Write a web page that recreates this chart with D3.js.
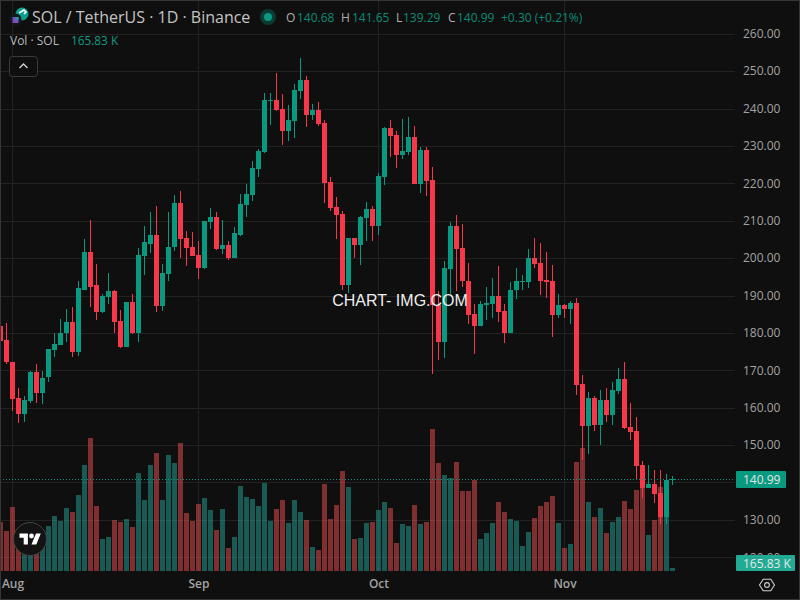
<!DOCTYPE html>
<html><head><meta charset="utf-8">
<script src="https://cdn.jsdelivr.net/npm/d3@7/dist/d3.min.js"></script>
<style>html,body{margin:0;padding:0;background:#0f0f0f;overflow:hidden}svg{display:block;font-family:"Open Sans",sans-serif}</style>
</head><body><svg id="c" width="800" height="600"></svg>
<script>
const opens=[181.8,178.0,172.2,162.6,158.3,161.8,169.6,164.0,168.1,175.3,176.7,179.9,182.8,174.8,191.6,201.5,192.7,185.5,189.5,191.1,183.1,176.1,188.2,180.1,200.5,203.9,206.1,187.1,195.7,202.9,214.6,205.3,202.9,200.7,197.3,209.6,210.9,202.3,203.4,199.9,206.3,214.1,216.9,223.8,228.4,242.1,242.3,239.9,234.0,236.7,244.7,247.6,238.3,239.6,236.1,220.4,213.6,211.7,192.7,205.3,203.4,210.6,213.0,208.5,221.7,234.8,232.9,227.6,228.4,232.4,219.8,228.9,220.9,187.4,177.5,197.0,208.7,202.6,194.0,185.0,181.8,187.4,187.6,189.8,185.8,180.1,191.4,193.8,193.6,200.0,198.7,194.2,193.9,184.7,187.4,186.3,187.9,166.3,155.0,162.6,155.3,162.0,158.0,164.4,167.6,154.8,153.7,144.7,138.6,139.7,137.3,130.8,140.68];
const highs=[182.2,182.7,172.3,165.3,163.2,169.8,171.7,169.8,175.6,179.9,183.6,186.3,186.8,194.0,205.0,210.1,198.3,190.3,195.9,191.4,186.0,188.2,190.3,202.6,208.7,212.2,213.8,198.3,212.2,216.9,217.9,207.2,206.9,204.7,209.8,213.3,212.2,210.1,204.7,208.2,217.1,219.8,225.9,229.3,244.1,244.1,249.4,243.9,240.9,246.5,253.5,248.7,241.2,241.7,236.9,221.7,216.3,212.5,205.5,205.5,211.2,214.9,213.8,222.8,235.1,236.9,234.0,237.2,237.7,235.3,229.7,229.7,224.4,191.1,199.1,209.6,211.4,209.0,198.6,187.6,188.4,192.4,194.6,197.8,187.6,193.5,197.3,195.4,202.4,205.4,204.0,201.6,198.2,190.4,187.7,188.5,189.3,168.7,164.2,163.1,164.7,165.2,166.8,170.6,172.2,161.2,157.5,145.8,144.7,143.4,143.4,142.3,141.65];
const lows=[177.5,171.7,159.1,155.9,156.2,161.3,161.3,161.0,166.8,173.5,176.7,177.7,173.5,173.7,191.6,186.8,183.4,185.2,187.6,180.1,175.9,176.1,179.6,177.5,195.4,201.3,185.5,185.8,194.0,201.8,199.9,197.8,200.5,194.3,197.0,207.7,202.1,201.0,199.4,199.9,205.8,210.9,215.2,221.8,228.2,235.6,239.3,230.2,231.3,232.1,242.5,235.1,236.9,235.3,214.6,212.5,205.0,191.4,190.8,199.9,198.1,204.7,204.5,206.3,219.6,227.0,224.1,226.5,227.6,219.8,217.4,216.6,168.9,172.7,173.2,190.3,191.1,192.2,182.3,174.3,181.8,183.4,183.9,182.8,177.2,179.9,189.0,191.4,192.0,197.4,190.1,189.3,178.9,183.9,183.9,182.3,163.4,146.0,147.6,153.7,150.0,156.1,155.3,163.6,154.3,151.3,141.0,135.9,138.6,134.6,129.0,129.0,139.29];
const closes=[177.8,172.2,162.3,158.3,162.1,169.6,164.0,168.0,175.6,176.9,180.1,182.8,174.8,191.9,201.5,192.4,185.5,189.8,191.1,182.8,176.1,188.2,180.1,200.7,204.2,206.1,187.1,195.9,203.1,214.6,205.0,202.6,200.5,197.3,209.8,210.9,202.3,203.4,199.9,206.6,214.4,217.1,224.1,228.6,242.3,242.3,239.6,234.0,236.9,244.9,247.6,238.3,239.6,235.9,220.1,213.3,211.4,192.7,205.3,203.4,210.9,213.0,208.5,222.0,234.8,232.6,227.6,228.6,232.4,219.8,228.9,220.6,187.4,177.5,197.3,208.7,202.3,193.8,184.7,181.8,187.6,187.9,189.8,185.5,179.9,191.4,193.8,194.0,200.0,198.4,193.9,193.6,184.7,187.4,186.3,187.9,166.0,155.0,162.6,155.3,162.0,158.0,164.7,167.6,154.5,153.5,144.5,138.6,139.7,137.0,130.8,140.7,140.99];
const volumes=[2695,2200,3520,2255,1650,1470,1560,1980,2475,3025,2750,3465,3245,4180,5830,7315,3575,1760,1870,2805,2695,2860,2420,5390,3905,5830,6490,3905,6380,5940,7040,3190,2750,3685,4015,3355,2255,3410,1265,1870,4675,4070,3960,3575,4840,2750,3410,3905,2640,3905,3245,2805,1320,1155,4785,2860,3630,5500,4620,1760,1815,2640,2695,3355,3795,3465,1540,2585,2475,3630,2585,2695,7810,5940,5280,5115,5995,4400,4400,5005,1760,2090,2640,3795,3245,2860,2750,1375,2145,2915,3575,3795,4125,2640,1265,1485,5995,6765,3795,2970,3465,2090,2695,2970,3850,3410,4455,4545,1980,2805,4620,3905,165.83];
const gridTicks=[260,250,240,230,220,210,200,190,180,170,160,150,140,130,120];
const labelTicks=[260,250,240,230,220,210,200,190,180,170,160,150,130,120];
const monthLabels=["Aug","Sep","Oct","Nov"];
const monthIndex=[2,33,63,94];
const lastClose=140.99;
const headerOHLC=[["O","140.68",286,297],["H","141.65",341,352],["L","139.29",396,403],["C","140.99",448,457]];

const UP="#089981",DOWN="#f7374a",GRID="#222222",BG="#0f0f0f",TEAL_TXT="#0d8a76";
const svg=d3.select("#c");
const x=d3.scaleLinear().domain([0,112]).range([0.5,672.5]);
const y=d3.scaleLinear().domain([260,120]).range([33.7,557.3]);
const yV=d3.scaleLinear().domain([0,8000]).range([571,425.55]);
const crisp=v=>Math.round(v);
svg.append("rect").attr("width",800).attr("height",600).attr("fill",BG);

// grid
const g=svg.append("g").attr("shape-rendering","crispEdges");
g.selectAll(".h").data(gridTicks).join("line").attr("x1",0).attr("x2",735)
 .attr("y1",d=>crisp(y(d))+.5).attr("y2",d=>crisp(y(d))+.5).attr("stroke",GRID);
g.selectAll(".v").data(monthIndex).join("line").attr("y1",0).attr("y2",571)
 .attr("x1",d=>Math.floor(x(d))+.5).attr("x2",d=>Math.floor(x(d))+.5).attr("stroke",GRID);

const idx=d3.range(opens.length);
const up=i=>closes[i]>=opens[i];
// volume
svg.append("g").attr("shape-rendering","crispEdges").selectAll("rect").data(idx).join("rect")
 .attr("x",i=>x(i)-2.5).attr("width",5)
 .attr("y",i=>crisp(yV(volumes[i]))).attr("height",i=>571-crisp(yV(volumes[i])))
 .attr("fill",i=>up(i)?"#26a69a":"#f0504f").attr("fill-opacity",.5);
// candles
const cg=svg.append("g").attr("shape-rendering","crispEdges");
cg.selectAll(".w").data(idx).join("rect").attr("x",i=>x(i)-.5).attr("width",1)
 .attr("y",i=>crisp(y(highs[i]))).attr("height",i=>Math.max(1,crisp(y(lows[i]))-crisp(y(highs[i]))))
 .attr("fill",i=>up(i)?UP:DOWN);
cg.selectAll(".b").data(idx).join("rect").attr("x",i=>x(i)-2.5).attr("width",5)
 .attr("y",i=>crisp(y(Math.max(opens[i],closes[i]))))
 .attr("height",i=>Math.max(1,crisp(y(Math.min(opens[i],closes[i])))-crisp(y(Math.max(opens[i],closes[i])))))
 .attr("fill",i=>up(i)?UP:DOWN);

// last price line
svg.append("line").attr("x1",0).attr("x2",735).attr("y1",crisp(y(lastClose))).attr("y2",crisp(y(lastClose)))
 .attr("stroke",UP).attr("stroke-dasharray","1 2").attr("shape-rendering","crispEdges");

// price axis
const ax=svg.append("g").attr("transform","translate(743,0)")
 .call(d3.axisRight(y).tickValues(labelTicks).tickSize(0).tickPadding(0).tickFormat(d3.format(".2f")));
ax.select(".domain").remove();
ax.selectAll("text").attr("font-family",'"Open Sans"').attr("font-size",12).attr("fill","#a3a3a3");

// time axis
const tx=d3.scaleOrdinal().domain(monthIndex).range(monthIndex.map(i=>x(i)));
const at=svg.append("g").attr("transform","translate(0,579)")
 .call(d3.axisBottom(tx).tickSize(0).tickPadding(0).tickFormat((d,i)=>monthLabels[i]));
at.select(".domain").remove();
at.selectAll("text").attr("font-family",'"Open Sans"').attr("font-size",12).attr("font-weight",600).attr("fill","#a3a3a3");

// watermark
svg.append("text").attr("x",400).attr("y",306).attr("text-anchor","middle")
 .attr("font-family",'"Liberation Sans"').attr("font-size",16).attr("fill","#eeeeee").text("CHART- IMG.COM");

// header
const T=(s,xx,yy,sz,col)=>svg.append("text").attr("x",xx).attr("y",yy).attr("font-size",sz).attr("fill",col).text(s);
T("SOL / TetherUS · 1D · Binance",32,23,16,"#c4c4c4");
svg.append("circle").attr("cx",268).attr("cy",17).attr("r",8).attr("fill","#0b3a33");
svg.append("circle").attr("cx",268).attr("cy",17).attr("r",4).attr("fill",UP);
headerOHLC.forEach(d=>{T(d[0],d[2],22,12,"#b0b0b0");T(d[1],d[3],22,12,TEAL_TXT);});
T("+0.30 (+0.21%)",501,22,12,TEAL_TXT);
T("Vol · SOL",10,45,12,"#b8b8b8");
T("165.83 K",71,45,11.8,"#159a86");

// symbol icon
svg.append("circle").attr("cx",22).attr("cy",14).attr("r",6.5).attr("fill","#0aa08c");
svg.append("path").attr("d","M19 13l5-3 2 2-2 2").attr("fill","none").attr("stroke","#fff").attr("stroke-width",1.6);
svg.append("circle").attr("cx",15.5).attr("cy",19.5).attr("r",6).attr("fill","#121a1c");
svg.append("rect").attr("x",12.5).attr("y",17).attr("width",6).attr("height",6).attr("fill","#7b4bc4");
svg.append("rect").attr("x",15.5).attr("y",17).attr("width",3).attr("height",3).attr("fill","#2a9a96");

// collapse button
svg.append("rect").attr("x",9.5).attr("y",56.5).attr("width",28).attr("height",20).attr("rx",3)
 .attr("fill",BG).attr("stroke","#3a3a3a");
svg.append("path").attr("d","M19.5 68l4-4 4 4").attr("fill","none").attr("stroke","#d0d0d0").attr("stroke-width",1.4);

// price tags
svg.append("rect").attr("x",736).attr("y",471).attr("width",50).attr("height",17).attr("rx",1).attr("fill",UP);
svg.append("text").attr("x",743).attr("y",484).attr("font-size",12).attr("fill","#e4e4e4").text("140.99");
svg.append("rect").attr("x",736).attr("y",555).attr("width",59).attr("height",16).attr("rx",1).attr("fill","#22ab94");
svg.append("text").attr("x",743).attr("y",568).attr("font-size",12).attr("fill","#e8e8e8").text("165.83 K");

// settings icon
const hex=d3.range(6).map(i=>{const a=i*Math.PI/3;return [767+7.5*Math.cos(a),585+6.6*Math.sin(a)];});
svg.append("path").attr("d",d3.line()(hex)+"Z").attr("fill","none").attr("stroke","#d0d0d0").attr("stroke-width",1.1);
svg.append("circle").attr("cx",767).attr("cy",585).attr("r",2.4).attr("fill","none").attr("stroke","#d0d0d0").attr("stroke-width",1.1);

// TV logo
svg.append("circle").attr("cx",30).attr("cy",539).attr("r",16.5).attr("fill","#131313").attr("stroke","#444").attr("stroke-width",1);
const logo=svg.append("g").attr("transform","translate(19.5,531.2) scale(.6)").attr("fill","#fff");
logo.append("path").attr("d","M14 22H7V11H0V4h14v18zM28 22h-8l7.5-18h8L28 22z");
logo.append("circle").attr("cx",20).attr("cy",8).attr("r",4);

// frame
svg.append("rect").attr("x",.5).attr("y",.5).attr("width",799).attr("height",599).attr("fill","none").attr("stroke","#363636").attr("shape-rendering","crispEdges");
</script></body></html>
